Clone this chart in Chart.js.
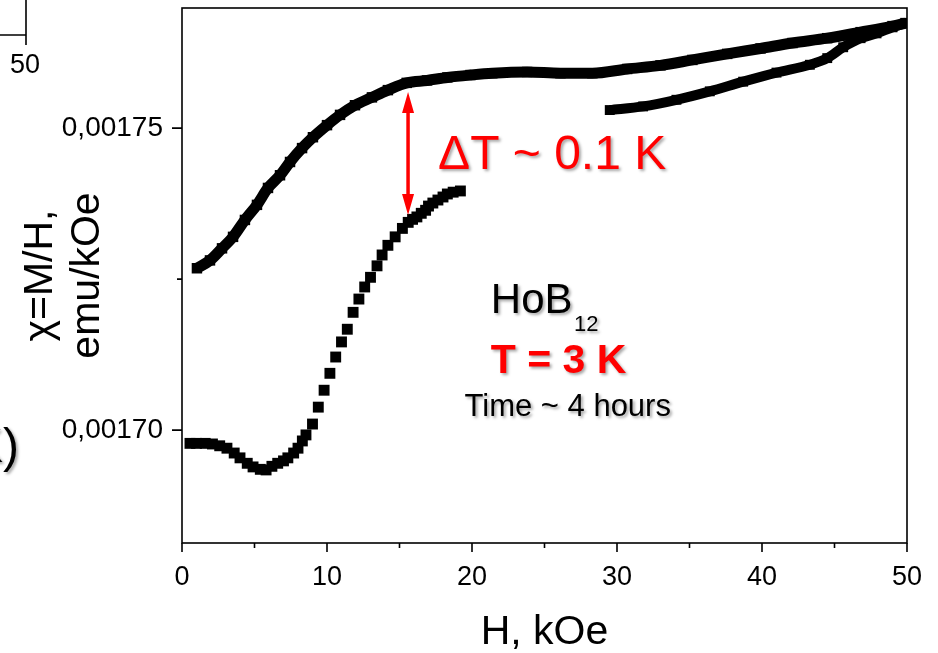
<!DOCTYPE html>
<html>
<head>
<meta charset="utf-8">
<title>HoB12 chi(H)</title>
<script src="https://cdn.jsdelivr.net/npm/chart.js@4.4.1/dist/chart.umd.min.js"></script>
<style>
  html, body { margin: 0; padding: 0; background: #fff; }
  #wrap { width: 938px; height: 653px; }
</style>
</head>
<body>
<div id="wrap"><canvas id="chiChart" width="938" height="653"></canvas></div>
<script>
// field sweep down from 50 kOe (upper branch)
const upperH = [1.03, 1.93, 2.76, 3.52, 4.34, 5.17, 5.93, 6.76, 7.45, 8.28, 9.03, 10.0, 10.9, 11.93,
  13.1, 14.2, 15.5, 16.9, 18.3, 19.9, 21.4, 23.8, 26.1, 28.3, 30.7, 33.0, 35.2, 37.6, 39.9, 42.1,
  44.5, 46.8, 49.0, 49.9];
const upperChi = [0.0017268, 0.0017281, 0.0017301, 0.0017320, 0.0017348, 0.0017373, 0.0017401,
  0.0017422, 0.0017444, 0.0017467, 0.0017485, 0.0017505, 0.0017522, 0.0017538, 0.0017551,
  0.0017563, 0.0017575, 0.0017579, 0.0017584, 0.0017588, 0.0017591, 0.0017593, 0.0017591,
  0.0017591, 0.0017598, 0.0017604, 0.0017613, 0.0017623, 0.0017632, 0.0017641, 0.0017649,
  0.0017659, 0.0017669, 0.0017674];

// field sweep up, low field part (0 - 19 kOe)
const lowerH = [0.55, 1.0, 1.6, 2.1, 2.6, 3.1, 3.6, 4.0, 4.5, 4.9, 5.4, 5.8, 6.2, 6.6, 7.0, 7.3, 7.7,
  8.0, 8.3, 8.55, 9.0, 9.4, 9.8, 10.2, 10.6, 11.0, 11.4, 11.8, 12.2, 12.6, 13.0, 13.45, 13.8, 14.2,
  14.7, 15.2, 15.6, 15.9, 16.2, 16.5, 16.8, 17.0, 17.3, 17.65, 18.0, 18.3, 18.7, 19.2];
const lowerChi = [0.0016978, 0.0016978, 0.0016978, 0.0016977, 0.0016974, 0.0016970, 0.0016962,
  0.0016954, 0.0016945, 0.0016939, 0.0016935, 0.0016934, 0.0016940, 0.0016945, 0.0016949,
  0.0016954, 0.0016962, 0.0016970, 0.0016982, 0.0016992, 0.0017010, 0.0017038, 0.0017066,
  0.0017094, 0.0017121, 0.0017146, 0.0017167, 0.0017195, 0.0017217, 0.0017237, 0.0017253,
  0.0017272, 0.0017290, 0.0017306, 0.0017320, 0.0017334, 0.0017344, 0.0017349, 0.0017353,
  0.0017359, 0.0017364, 0.0017371, 0.0017376, 0.0017381, 0.0017386, 0.0017391, 0.0017394,
  0.0017396];

// field sweep up, high field part (30 - 50 kOe)
const highH = [29.5, 31.8, 34.1, 36.4, 38.7, 41.0, 43.3, 44.5, 45.6, 46.8, 47.9, 49.0, 49.9];
const highChi = [0.0017530, 0.0017536, 0.0017547, 0.0017561, 0.0017577, 0.0017592, 0.0017605,
  0.0017616, 0.0017634, 0.0017649, 0.0017657, 0.0017667, 0.0017674];

const xTickValues = [0, 10, 20, 30, 40, 50];
const xMinorValues = [5, 15, 25, 35, 45];
const yTickValues = [0.00170, 0.00175];
const yMinorValues = [0.001725];

// double arrow marking the gap at ~15.6 kOe
const gapH = 15.59;
const gapTop = 0.0017560;
const gapBottom = 0.0017356;

function toPoints(hs, chis) {
  return hs.map((h, i) => ({ x: h, y: chis[i] }));
}

const FONT = "'Liberation Sans', Arial, sans-serif";

function shadowText(ctx, text, x, y, font, color, align) {
  ctx.save();
  ctx.font = font;
  ctx.fillStyle = color;
  ctx.textAlign = align || "left";
  ctx.textBaseline = "alphabetic";
  ctx.shadowColor = "rgba(0,0,0,0.35)";
  ctx.shadowOffsetX = 2;
  ctx.shadowOffsetY = 2;
  ctx.shadowBlur = 3;
  ctx.fillText(text, x, y);
  ctx.restore();
}

const decorPlugin = {
  id: "decor",
  afterDraw(chart) {
    const { ctx, chartArea: a, scales: { x, y } } = chart;
    ctx.save();
    ctx.strokeStyle = "#000";
    ctx.lineWidth = 1.6;
    ctx.strokeRect(a.left, a.top, a.right - a.left, a.bottom - a.top);

    // tick marks, outside the frame
    ctx.beginPath();
    xTickValues.forEach(v => { const px = x.getPixelForValue(v); ctx.moveTo(px, a.bottom); ctx.lineTo(px, a.bottom + 9); });
    xMinorValues.forEach(v => { const px = x.getPixelForValue(v); ctx.moveTo(px, a.bottom); ctx.lineTo(px, a.bottom + 5); });
    yTickValues.forEach(v => { const py = y.getPixelForValue(v); ctx.moveTo(a.left, py); ctx.lineTo(a.left - 10, py); });
    yMinorValues.forEach(v => { const py = y.getPixelForValue(v); ctx.moveTo(a.left, py); ctx.lineTo(a.left - 5, py); });
    ctx.stroke();

    // red double arrow
    const ax = x.getPixelForValue(gapH);
    const y1 = y.getPixelForValue(gapTop);
    const y2 = y.getPixelForValue(gapBottom);
    ctx.fillStyle = "#ff0000";
    ctx.strokeStyle = "#ff0000";
    ctx.lineWidth = 3.5;
    ctx.beginPath();
    ctx.moveTo(ax, y1 + 18);
    ctx.lineTo(ax, y2 - 18);
    ctx.stroke();
    ctx.beginPath();
    ctx.moveTo(ax, y1); ctx.lineTo(ax - 6, y1 + 21); ctx.lineTo(ax + 6, y1 + 21); ctx.closePath();
    ctx.moveTo(ax, y2); ctx.lineTo(ax - 6, y2 - 21); ctx.lineTo(ax + 6, y2 - 21); ctx.closePath();
    ctx.fill();
    ctx.restore();

    // annotations
    shadowText(ctx, "\u0394T ~ 0.1 K", x.getPixelForValue(17.66), y.getPixelForValue(0.0017432), "48px " + FONT, "#ff0000");
    shadowText(ctx, "HoB", x.getPixelForValue(21.3), y.getPixelForValue(0.0017194), "42px " + FONT, "#000");
    shadowText(ctx, "12", x.getPixelForValue(27.03), y.getPixelForValue(0.0017164), "22px " + FONT, "#000");
    shadowText(ctx, "T = 3 K", x.getPixelForValue(25.97), y.getPixelForValue(0.0017094), "bold 41px " + FONT, "#ff0000", "center");
    shadowText(ctx, "Time ~ 4 hours", x.getPixelForValue(26.6), y.getPixelForValue(0.0017023), "31px " + FONT, "#000", "center");

    // edge of the neighbouring panel, cut by the crop
    ctx.save();
    ctx.strokeStyle = "#000";
    ctx.lineWidth = 1.6;
    ctx.beginPath();
    ctx.moveTo(26, 0); ctx.lineTo(26, 45);
    ctx.moveTo(0, 35); ctx.lineTo(26, 35);
    ctx.stroke();
    ctx.fillStyle = "#000";
    ctx.font = "27px " + FONT;
    ctx.textAlign = "center";
    ctx.textBaseline = "middle";
    ctx.fillText("50", 25, 66);
    ctx.restore();
    shadowText(ctx, "K)", 19, 462, "48px " + FONT, "#000", "right");
  }
};

new Chart(document.getElementById("chiChart"), {
  type: "scatter",
  data: {
    datasets: [
      {
        label: "H down",
        data: toPoints(upperH, upperChi),
        showLine: true,
        cubicInterpolationMode: "monotone",
        borderColor: "#000",
        borderWidth: 11,
        pointStyle: "rect",
        pointRadius: 7.4,
        pointBorderWidth: 0,
        pointBackgroundColor: "#000",
        clip: 0
      },
      {
        label: "H up",
        data: toPoints(lowerH, lowerChi),
        showLine: false,
        pointStyle: "rect",
        pointRadius: 7.7,
        pointBorderWidth: 0,
        pointBackgroundColor: "#000",
        clip: 0
      },
      {
        label: "H up (high field)",
        data: toPoints(highH, highChi),
        showLine: true,
        cubicInterpolationMode: "monotone",
        borderColor: "#000",
        borderWidth: 10,
        pointStyle: "rect",
        pointRadius: 7,
        pointBorderWidth: 0,
        pointBackgroundColor: "#000",
        clip: 0
      }
    ]
  },
  options: {
    responsive: false,
    animation: false,
    devicePixelRatio: 1,
    layout: { padding: { top: 8, right: 31, left: 0, bottom: 0 } },
    plugins: { legend: { display: false }, tooltip: { enabled: false } },
    scales: {
      x: {
        type: "linear",
        min: 0,
        max: 50,
        afterBuildTicks: s => { s.ticks = xTickValues.map(v => ({ value: v })); },
        afterFit: s => { s.height = 110; s.paddingLeft = 0; s.paddingRight = 0; },
        grid: { display: false, drawTicks: false, tickLength: 0 },
        border: { display: false },
        ticks: { color: "#000", font: { family: FONT, size: 27 }, padding: 18, maxRotation: 0, autoSkip: false },
        title: { display: true, text: "H, kOe", color: "#000", font: { family: FONT, size: 41, lineHeight: 1 }, padding: { top: 0, bottom: 0 } }
      },
      y: {
        type: "linear",
        min: 0.0016813,
        max: 0.0017699,
        afterBuildTicks: s => { s.ticks = yTickValues.map(v => ({ value: v })); },
        afterFit: s => { s.width = 182; s.paddingTop = 0; s.paddingBottom = 0; },
        grid: { display: false, drawTicks: false, tickLength: 0 },
        border: { display: false },
        ticks: {
          color: "#000",
          font: { family: FONT, size: 28 },
          padding: 19,
          callback: v => v.toFixed(5).replace(".", ",")
        },
        title: {
          display: true,
          text: ["\u03C7=M/H,", "emu/kOe"],
          color: "#000",
          font: { family: FONT, size: 41, lineHeight: 1.15 },
          padding: { top: 17, bottom: 0 }
        }
      }
    }
  },
  plugins: [decorPlugin]
});
</script>
</body>
</html>
